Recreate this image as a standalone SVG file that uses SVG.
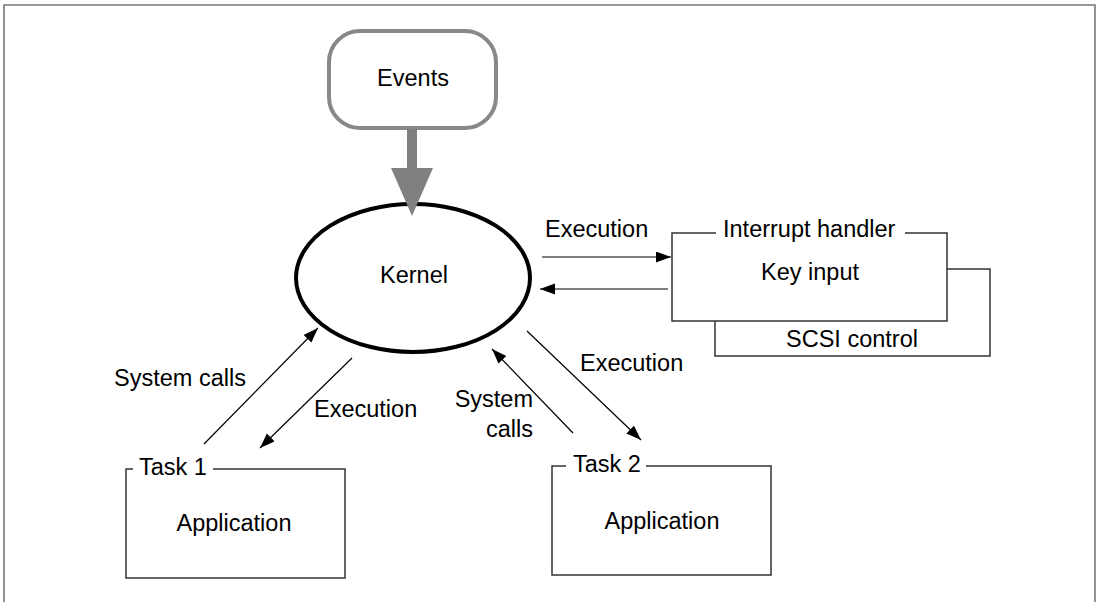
<svg xmlns="http://www.w3.org/2000/svg" width="1099" height="602" viewBox="0 0 1099 602">
<style>
text{font-family:"Liberation Sans",Arial,sans-serif;font-size:23.5px;fill:#000}
.box{fill:#fff;stroke:#333;stroke-width:1.5}
.edge{stroke:#000;stroke-width:1.2;fill:none}
.mid{text-anchor:middle}
</style>
<defs>
<marker id="ah" markerUnits="userSpaceOnUse" markerWidth="16" markerHeight="12" refX="15" refY="5.5" orient="auto">
<path d="M0,0 L15,5.5 L0,11 z" fill="#000"/>
</marker>
</defs>
<rect width="1099" height="602" fill="#fff"/>
<path d="M4,610 V5 H1095 V610" fill="none" stroke="#777" stroke-width="1.6"/>

<g id="events">
<rect x="329" y="31" width="167" height="97" rx="31" fill="#fff" stroke="#888" stroke-width="4"/>
<text class="mid" x="413" y="86">Events</text>
</g>

<g id="kernel">
<ellipse cx="413" cy="278" rx="117" ry="74" fill="none" stroke="#000" stroke-width="4"/>
<text class="mid" x="414" y="283">Kernel</text>
</g>

<g id="scsi">
<rect class="box" x="715" y="269" width="275" height="87"/>
<text class="mid" x="852" y="347">SCSI control</text>
</g>

<g id="interrupt">
<rect x="672" y="233" width="275" height="88" fill="#fff"/>
<path class="box" d="M716,233 H672 V321 H947 V233 H905" fill="#fff"/>
<text x="723" y="237">Interrupt handler</text>
<text class="mid" x="810" y="280">Key input</text>
</g>

<g id="task1">
<path class="box" d="M133,469 H126 V578 H345 V469 H213" fill="#fff"/>
<text x="139" y="475">Task 1</text>
<text class="mid" x="234" y="531">Application</text>
</g>

<g id="task2">
<path class="box" d="M566,466 H552 V575 H771 V466 H646" fill="#fff"/>
<text x="573" y="472">Task 2</text>
<text class="mid" x="662" y="529">Application</text>
</g>

<g id="connectors">
<path d="M407,129 H417 V168 H433 L412,216 L391,168 H407 Z" fill="#808080"/>
<line class="edge" x1="542" y1="257" x2="671" y2="257" marker-end="url(#ah)"/>
<line class="edge" x1="668" y1="289" x2="540" y2="289" marker-end="url(#ah)"/>
<line class="edge" x1="204" y1="444" x2="318" y2="328" marker-end="url(#ah)"/>
<line class="edge" x1="352" y1="358" x2="260" y2="448" marker-end="url(#ah)"/>
<line class="edge" x1="573" y1="433" x2="492" y2="349" marker-end="url(#ah)"/>
<line class="edge" x1="527" y1="331" x2="641" y2="440" marker-end="url(#ah)"/>
<text x="545" y="237">Execution</text>
<text x="114" y="386">System calls</text>
<text x="314" y="417">Execution</text>
<text x="580" y="371">Execution</text>
<text x="533" y="407" text-anchor="end">System</text>
<text x="533" y="437" text-anchor="end">calls</text>
</g>
</svg>
